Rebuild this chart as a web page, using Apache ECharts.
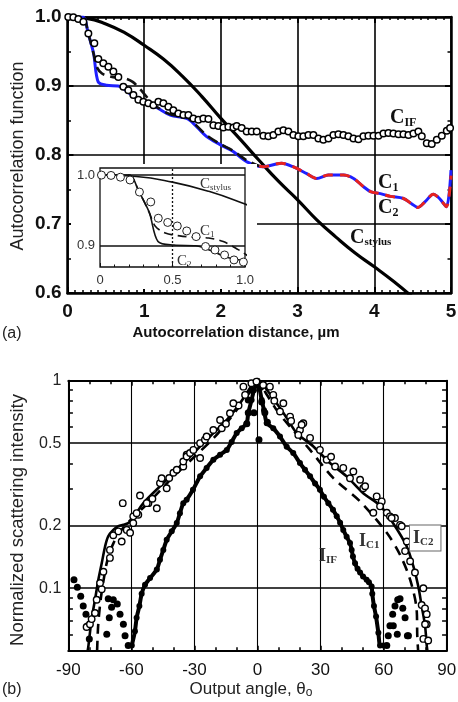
<!DOCTYPE html>
<html><head><meta charset="utf-8">
<script src="https://cdn.jsdelivr.net/npm/echarts@6/dist/echarts.min.js"></script>
<style>html,body{margin:0;padding:0;background:#fff}#c{width:458px;height:702px}</style>
</head><body><div id="c"></div><script>
// ---------- Panel (a) data ----------
const aXTicks = [0, 1, 2, 3, 4, 5];
const aYTicks = [0.6, 0.7, 0.8, 0.9, 1.0];
const cStylus = [[0,1.0],[0.25,0.998],[0.5,0.99],[0.75,0.977],[1.0,0.959],[1.25,0.939],[1.5,0.914],[1.75,0.885],[2.0,0.853],[2.25,0.823],[2.5,0.792],[2.75,0.762],[3.0,0.735],[3.25,0.706],[3.5,0.681],[3.75,0.658],[4.0,0.638],[4.25,0.617],[4.5,0.594]];
const c2 = [[0,1.0],[0.2,1.0],[0.27,0.976],[0.34,0.947],[0.40,0.906],[0.51,0.901],[0.66,0.900],[0.72,0.897],[0.86,0.885],[1.0,0.878],[1.16,0.869],[1.34,0.858],[1.55,0.853],[1.64,0.846],[1.81,0.827],[1.99,0.815],[2.16,0.805],[2.34,0.790],[2.55,0.783],[2.79,0.788],[2.94,0.783],[3.12,0.773],[3.25,0.766],[3.4,0.771],[3.6,0.771],[3.73,0.766],[3.86,0.754],[3.95,0.747],[4.08,0.744],[4.21,0.740],[4.38,0.737],[4.49,0.729],[4.57,0.724],[4.66,0.732],[4.77,0.743],[4.85,0.737],[4.94,0.725],[5.0,0.778]];
const c1Early = [[0,1.0],[0.2,1.0],[0.27,0.976],[0.34,0.947],[0.38,0.928],[0.45,0.918],[0.55,0.914],[0.65,0.912],[0.75,0.911],[0.85,0.906],[0.95,0.895],[1.05,0.882],[1.16,0.870],[1.34,0.859],[1.55,0.855],[1.64,0.847],[1.81,0.829],[1.99,0.816],[2.16,0.806],[2.34,0.792],[2.5,0.784]];
const c1Late = [[2.5,0.784],[2.55,0.783],[2.79,0.788],[2.94,0.783],[3.12,0.773],[3.25,0.766],[3.4,0.771],[3.6,0.771],[3.73,0.766],[3.86,0.754],[3.95,0.747],[4.08,0.744],[4.21,0.740],[4.38,0.737],[4.49,0.729],[4.57,0.724],[4.66,0.732],[4.77,0.743],[4.85,0.737],[4.94,0.725],[5.0,0.770]];
const cIF = [[0.01,1.0],[0.076,0.9995],[0.141,0.997],[0.207,0.993],[0.272,0.976],[0.35,0.962],[0.402,0.939],[0.467,0.933],[0.533,0.928],[0.598,0.921],[0.663,0.913],[0.728,0.899],[0.793,0.894],[0.859,0.887],[0.924,0.880],[0.989,0.877],[1.054,0.875],[1.12,0.872],[1.185,0.877],[1.25,0.875],[1.315,0.870],[1.38,0.865],[1.445,0.860],[1.511,0.858],[1.576,0.858],[1.641,0.853],[1.706,0.851],[1.771,0.853],[1.837,0.852],[1.902,0.843],[1.967,0.842],[2.032,0.840],[2.097,0.841],[2.163,0.840],[2.206,0.842],[2.271,0.839],[2.336,0.834],[2.402,0.834],[2.467,0.834],[2.554,0.828],[2.619,0.827],[2.684,0.829],[2.749,0.834],[2.815,0.836],[2.88,0.834],[2.945,0.829],[3.01,0.827],[3.075,0.827],[3.141,0.829],[3.206,0.829],[3.271,0.824],[3.336,0.822],[3.402,0.824],[3.467,0.829],[3.532,0.830],[3.597,0.829],[3.662,0.827],[3.728,0.824],[3.793,0.823],[3.858,0.827],[3.923,0.828],[3.989,0.828],[4.054,0.828],[4.119,0.831],[4.184,0.832],[4.249,0.831],[4.315,0.830],[4.38,0.830],[4.445,0.829],[4.51,0.831],[4.575,0.834],[4.619,0.827],[4.684,0.817],[4.749,0.816],[4.815,0.822],[4.88,0.828],[4.945,0.835],[4.988,0.839]];
const insetYLines = [1.0, 0.9];
const insetXMark = [0.5];

// ---------- Panel (b) data ----------
const bYGrid = [0.5, 0.2, 0.1];
const bYLabels = [1, 0.5, 0.2, 0.1];
const bYMinor = [0.06, 0.07, 0.08, 0.09, 0.3, 0.4, 0.6, 0.7, 0.8, 0.9];
const iIFArms = [[-59.8,0.053],[-58.3,0.062],[-57.5,0.072],[-56.2,0.082],[-55.1,0.094],[-53.5,0.104],[-51.1,0.112],[-47.9,0.123],[-46.4,0.137],[-44.8,0.153],[-43.2,0.171],[-40.8,0.188],[-38.4,0.206],[-36.9,0.230],[-35.3,0.257],[-33.7,0.267],[-30.7,0.298],[-27.3,0.346],[-24.2,0.380],[-21.0,0.416],[-17.8,0.440],[-14.6,0.464],[-12.3,0.507],[-9.9,0.559],[-7.5,0.590],[-5.1,0.624],[-4.4,0.697],[-2.8,0.808],[-1.7,0.90],[-0.4,0.97],[0,1.0],[2.0,0.808],[3.1,0.72],[4.4,0.624],[7.5,0.590],[10.7,0.538],[13.9,0.481],[17.0,0.448],[20.2,0.401],[22.6,0.372],[25.0,0.346],[27.4,0.320],[29.7,0.298],[31.6,0.276],[33.7,0.257],[35.9,0.239],[37.7,0.222],[39.3,0.207],[40.8,0.191],[42.4,0.177],[44.0,0.165],[44.8,0.153],[45.4,0.142],[46.4,0.132],[47.6,0.124],[48.8,0.119],[50.2,0.114],[51.9,0.110],[53.0,0.107],[54.3,0.102],[54.6,0.094],[55.4,0.082],[56.4,0.073],[57.5,0.061],[58.3,0.053],[59.9,0.053]];
const iIFDots = [[-87.3,0.110],[-85.7,0.101],[-84.1,0.0915],[-82.9,0.082],[-81.6,0.075],[-80.8,0.066],[-80.0,0.057],[-71.7,0.060],[-70.5,0.072],[-69.4,0.081],[-71.0,0.089],[-68.6,0.088],[-66.7,0.084],[-65.4,0.075],[-63.8,0.067],[-63.0,0.059],[-61.5,0.053],[-4.4,0.808],[-4.4,0.70],[-1.7,0.70],[3.5,0.70],[2.0,0.79],[-5.1,0.62],[4.7,0.63],[0.7,0.519],[-2.5,0.9],[1.5,0.93],[61.5,0.053],[62.2,0.059],[63.0,0.066],[64.3,0.075],[65.4,0.082],[66.7,0.088],[67.8,0.089],[69.1,0.080],[70.2,0.072],[71.3,0.059],[64.6,0.066],[66.5,0.060],[71.8,0.059]];
const iC2 = [[-80.8,0.05],[-80.5,0.052],[-78.9,0.071],[-77.3,0.088],[-75.7,0.110],[-74.1,0.132],[-72.5,0.159],[-71.0,0.178],[-68.6,0.191],[-66.2,0.199],[-63.8,0.202],[-61.5,0.206],[-59.1,0.218],[-54.3,0.257],[-44.8,0.321],[-36.9,0.386],[-28.9,0.464],[-21.0,0.559],[-14.6,0.647],[-8.3,0.779],[-2.0,0.972],[0,1.0],[2.0,0.972],[9.1,0.779],[14.0,0.66],[18.7,0.559],[26.6,0.482],[34.5,0.401],[42.4,0.346],[50.3,0.287],[58.3,0.250],[64.6,0.205],[71.0,0.159],[74.1,0.128],[76.5,0.102],[78.1,0.082],[79.7,0.066],[80.5,0.053],[80.8,0.05]];
const iC1 = [[-76.3,0.05],[-75.8,0.066],[-74.8,0.085],[-73.5,0.105],[-71.5,0.135],[-68.5,0.165],[-64,0.195],[-58,0.225],[-50,0.27],[-40,0.345],[-30,0.43],[-20,0.54],[-10,0.72],[-4,0.87],[0,1.0],[4,0.87],[10,0.70],[15.5,0.60],[25.0,0.464],[36.1,0.339],[48.8,0.262],[61.5,0.185],[67.8,0.145],[72.6,0.110],[75.7,0.079],[76.0,0.059],[76.4,0.05]];
const iMeas = [[-81.3,0.065],[-79.7,0.067],[-78.9,0.071],[-77.3,0.076],[-76.5,0.088],[-74.1,0.099],[-74.9,0.106],[-73.3,0.12],[-70.2,0.14],[-70.2,0.153],[-68.6,0.18],[-66.2,0.188],[-64.6,0.168],[-62.2,0.191],[-60.6,0.185],[-59.1,0.206],[-56.7,0.226],[-59.1,0.222],[-47.9,0.243],[-51.9,0.257],[-64.1,0.257],[-55.9,0.28],[-52.7,0.257],[-57.5,0.23],[-50,0.27],[-46.4,0.321],[-43.2,0.303],[-45.6,0.339],[-42,0.34],[-40,0.36],[-38.4,0.372],[-35.3,0.386],[-33.7,0.44],[-35.3,0.408],[-33.7,0.431],[-32.1,0.448],[-30.5,0.464],[-27.3,0.424],[-27.3,0.5],[-25,0.52],[-24.2,0.538],[-21,0.579],[-17,0.59],[-15,0.62],[-17.8,0.647],[-13.1,0.697],[-9,0.76],[-11.5,0.779],[-5.9,0.854],[-6.7,0.936],[-2.9,0.972],[-0.5,0.99],[2.7,0.953],[5.9,0.936],[7.5,0.854],[8,0.8],[12.3,0.779],[10.7,0.71],[15.5,0.671],[16,0.64],[21.8,0.624],[20.2,0.579],[21.0,0.613],[19.4,0.548],[25,0.53],[29.7,0.464],[32.9,0.416],[35,0.43],[36.9,0.386],[40.8,0.38],[45.6,0.365],[44.0,0.339],[48.8,0.333],[50.3,0.303],[51.2,0.31],[56.7,0.277],[59.1,0.262],[58.3,0.248],[55.1,0.231],[61.5,0.231],[63.0,0.222],[65.4,0.218],[63.8,0.218],[67.8,0.202],[68.6,0.199],[71.0,0.168],[70.2,0.151],[72.6,0.135],[74.9,0.119],[78.9,0.1],[78.1,0.083],[79.7,0.08],[80.5,0.075],[80.5,0.067],[79.7,0.067],[78.9,0.057],[81.2,0.056]];

// ---------- styles ----------
const SANS = "'Liberation Sans', Arial, Helvetica, sans-serif";
const SERIF = "'Liberation Serif', 'Times New Roman', serif";
const BLK = '#000';

const chart = echarts.init(document.getElementById('c'), null, {renderer: 'canvas', width: 458, height: 702});

function frameAxis(extra) {
  return Object.assign({
    type: 'value',
    axisLine: {show: true, onZero: false, lineStyle: {color: BLK, width: 2.5}},
    axisTick: {show: true, inside: true, length: 6, lineStyle: {color: BLK, width: 2}},
    minorTick: {show: true, length: 3, lineStyle: {color: BLK, width: 1.5}},
    splitLine: {show: false},
    axisLabel: {show: false}
  }, extra);
}

const subText = (main, sub) => `{m|${main}}{s|${sub}}`;
function richLabel(x, y, main, sub, mainFont, subFont, color, drop, extraStyle) {
  return {
    type: 'text', x: x, y: y, z: 30,
    style: Object.assign({
      text: subText(main, sub),
      verticalAlign: 'middle', align: 'left', fill: color,
      rich: {
        m: {font: mainFont, fill: color},
        s: {font: subFont, fill: color, padding: [drop, 0, 0, 0]}
      }
    }, extraStyle || {})
  };
}

const option = {
  animation: false,
  backgroundColor: '#fff',
  grid: [
    {left: 67.5, top: 17, width: 383.5, height: 276, outerBoundsMode: 'none', containLabel: false},
    {left: 100, top: 168, width: 145, height: 99, show: true, z: 10, borderColor: '#111', borderWidth: 1.3, backgroundColor: 'rgba(0,0,0,0)', outerBoundsMode: 'none', containLabel: false},
    {left: 68.3, top: 380.7, width: 378.4, height: 270, outerBoundsMode: 'none', containLabel: false}
  ],
  xAxis: [
    frameAxis({gridIndex: 0, position: 'bottom', min: aXTicks[0], max: aXTicks[aXTicks.length - 1], interval: 1,
      minorTick: {show: true, splitNumber: 10, length: 3, lineStyle: {color: BLK, width: 1.5}},
      splitLine: {show: true, lineStyle: {color: BLK, width: 1.6}},
      axisLabel: {show: true, margin: 9, color: '#111', fontFamily: SANS, fontWeight: 'bold', fontSize: 19}}),
    frameAxis({gridIndex: 0, position: 'top', min: aXTicks[0], max: aXTicks[aXTicks.length - 1], interval: 1,
      minorTick: {show: true, splitNumber: 10, length: 3, lineStyle: {color: BLK, width: 1.5}}}),
    {gridIndex: 1, type: 'value', min: 0, max: 1, interval: 0.5, z: 10,
      axisLine: {show: false}, splitLine: {show: false},
      axisTick: {show: true, inside: true, length: 4, lineStyle: {color: '#111', width: 1}},
      minorTick: {show: true, splitNumber: 5, length: 2.5, lineStyle: {color: '#111', width: 1}},
      axisLabel: {show: true, margin: 7, color: '#333', fontFamily: SANS, fontSize: 13,
        formatter: v => (v === 0 ? '0' : v.toFixed(1))}},
    frameAxis({gridIndex: 2, position: 'bottom', min: -90, max: 90, interval: 30,
      axisLine: {show: true, onZero: false, lineStyle: {color: BLK, width: 2}},
      axisTick: {show: true, inside: true, length: 5, lineStyle: {color: BLK, width: 1.5}},
      minorTick: {show: true, splitNumber: 3, length: 3.5, lineStyle: {color: BLK, width: 1.5}},
      splitLine: {show: true, lineStyle: {color: BLK, width: 1.1}},
      axisLabel: {show: true, margin: 11, color: '#111', fontFamily: SANS, fontSize: 17}}),
    frameAxis({gridIndex: 2, position: 'top', min: -90, max: 90, interval: 30,
      axisLine: {show: true, onZero: false, lineStyle: {color: BLK, width: 2}},
      axisTick: {show: true, inside: true, length: 5, lineStyle: {color: BLK, width: 1.5}},
      minorTick: {show: true, splitNumber: 3, length: 3.5, lineStyle: {color: BLK, width: 1.5}}})
  ],
  yAxis: [
    frameAxis({gridIndex: 0, position: 'left', min: aYTicks[0], max: aYTicks[aYTicks.length - 1], interval: 0.1,
      minorTick: {show: true, splitNumber: 2, length: 3.5, lineStyle: {color: BLK, width: 1.5}},
      splitLine: {show: true, lineStyle: {color: BLK, width: 1.6}},
      axisLabel: {show: true, margin: 6, color: '#111', fontFamily: SANS, fontWeight: 'bold', fontSize: 19,
        formatter: v => v.toFixed(1)}}),
    frameAxis({gridIndex: 0, position: 'right', min: aYTicks[0], max: aYTicks[aYTicks.length - 1], interval: 0.1,
      minorTick: {show: true, splitNumber: 2, length: 3.5, lineStyle: {color: BLK, width: 1.5}}}),
    {gridIndex: 1, type: 'value', min: 0.87, max: 1.01, z: 10,
      axisLine: {show: false}, axisTick: {show: false}, splitLine: {show: false}, axisLabel: {show: false}},
    {gridIndex: 2, type: 'log', logBase: 10, min: 0.05, max: 1, position: 'left',
      axisLine: {show: true, onZero: false, lineStyle: {color: BLK, width: 2}},
      axisTick: {show: false}, minorTick: {show: false}, splitLine: {show: false}, axisLabel: {show: false}},
    {gridIndex: 2, type: 'log', logBase: 10, min: 0.05, max: 1, position: 'right',
      axisLine: {show: true, onZero: false, lineStyle: {color: BLK, width: 2}},
      axisTick: {show: false}, minorTick: {show: false}, splitLine: {show: false}, axisLabel: {show: false}}
  ],
  series: [
    // ----- panel (a) main -----
    {name: 'C_stylus', type: 'line', xAxisIndex: 0, yAxisIndex: 0, data: cStylus, smooth: true, showSymbol: false,
      lineStyle: {color: BLK, width: 3.2}, z: 3},
    {name: 'C_2', type: 'line', xAxisIndex: 0, yAxisIndex: 0, data: c2, smooth: 0.3, showSymbol: false,
      lineStyle: {color: '#1f1fff', width: 3}, z: 3},
    {name: 'C_1', type: 'line', xAxisIndex: 0, yAxisIndex: 0, data: c1Early, smooth: 0.3, showSymbol: false,
      lineStyle: {color: '#111', width: 2.6, type: [11, 6]}, z: 4},
    {name: 'C_1 (tail)', type: 'line', xAxisIndex: 0, yAxisIndex: 0, data: c1Late, smooth: 0.3, showSymbol: false,
      lineStyle: {color: '#e8231d', width: 3, type: [10, 7]}, z: 4},
    {name: 'C_IF', type: 'scatter', xAxisIndex: 0, yAxisIndex: 0, data: cIF, symbol: 'circle', symbolSize: 6.5,
      itemStyle: {color: '#fff', borderColor: BLK, borderWidth: 1.5, opacity: 1}, z: 5},
    // ----- panel (a) inset -----
    {name: 'inset C_stylus', type: 'line', xAxisIndex: 2, yAxisIndex: 2, data: cStylus, smooth: true, showSymbol: false,
      lineStyle: {color: '#111', width: 1.6}, z: 11,
      markLine: {silent: true, symbol: 'none', z: 11,
        data: insetYLines.map(v => ({yAxis: v, lineStyle: {color: '#111', width: 1.5, type: 'solid'},
            label: {show: true, position: 'start', distance: 5, formatter: v.toFixed(1), color: '#333', fontFamily: SANS, fontSize: 13}}))
          .concat(insetXMark.map(v => ({xAxis: v, lineStyle: {color: '#111', width: 1.3, type: [2, 2]}, label: {show: false}})))}},
    {name: 'inset C_2', type: 'line', xAxisIndex: 2, yAxisIndex: 2, data: c2, smooth: 0.3, showSymbol: false,
      lineStyle: {color: '#111', width: 1.6}, z: 11},
    {name: 'inset C_1', type: 'line', xAxisIndex: 2, yAxisIndex: 2, data: c1Early, smooth: 0.3, showSymbol: false,
      lineStyle: {color: '#111', width: 1.6, type: [9, 5]}, z: 11},
    {name: 'inset C_IF', type: 'scatter', xAxisIndex: 2, yAxisIndex: 2, data: cIF, symbol: 'circle', symbolSize: 8,
      itemStyle: {color: '#fff', borderColor: '#222', borderWidth: 1, opacity: 1}, z: 12},
    // ----- panel (b) -----
    {name: 'I_C2', type: 'line', xAxisIndex: 3, yAxisIndex: 3, data: iC2, smooth: 0.3, showSymbol: false,
      lineStyle: {color: BLK, width: 2.6}, z: 3,
      markLine: {silent: true, symbol: 'none', z: 2,
        data: bYLabels.map(v => ({yAxis: v,
            lineStyle: {color: BLK, width: bYGrid.indexOf(v) >= 0 ? 1.6 : 2, type: 'solid'},
            label: {show: true, position: 'start', distance: 7, formatter: String(v), color: '#222', fontFamily: SANS, fontSize: 16}}))
          .concat(bYMinor.map(v => [{coord: [-90, v]}, {coord: [-87.8, v]}]))
          .concat(bYMinor.map(v => [{coord: [90, v]}, {coord: [87.8, v]}])),
        lineStyle: {color: BLK, width: 1.5, type: 'solid'}, label: {show: false}}},
    {name: 'I_C1', type: 'line', xAxisIndex: 3, yAxisIndex: 3, data: iC1, smooth: 0.3, showSymbol: false,
      lineStyle: {color: BLK, width: 2.6, type: [10, 7]}, z: 3},
    {name: 'I_IF', type: 'line', xAxisIndex: 3, yAxisIndex: 3, data: iIFArms, smooth: 0.2, showSymbol: true,
      symbol: 'circle', symbolSize: 6, itemStyle: {color: BLK, opacity: 1}, lineStyle: {color: BLK, width: 4}, z: 4},
    {name: 'I_IF dots', type: 'scatter', xAxisIndex: 3, yAxisIndex: 3, data: iIFDots, symbol: 'circle', symbolSize: 7,
      itemStyle: {color: BLK, opacity: 1}, z: 4},
    {name: 'measured', type: 'scatter', xAxisIndex: 3, yAxisIndex: 3, data: iMeas, symbol: 'circle', symbolSize: 6.5,
      itemStyle: {color: '#fff', borderColor: BLK, borderWidth: 1.4, opacity: 1}, z: 5}
  ],
  graphic: [
    // white backdrop of the inset
    {type: 'rect', z: 6, silent: true, shape: {x: 71, y: 164, width: 186, height: 125}, style: {fill: '#fff'}},
    // axis titles and panel tags
    {type: 'text', x: 18, y: 156, rotation: Math.PI / 2, z: 30,
      style: {text: 'Autocorrelation function', align: 'center', verticalAlign: 'middle', fill: '#222', font: `18px ${SANS}`}},
    {type: 'text', x: 236, y: 333, z: 30,
      style: {text: 'Autocorrelation distance, \u00b5m', align: 'center', verticalAlign: 'middle', fill: '#111', font: `bold 15px ${SANS}`}},
    {type: 'text', x: 2, y: 334, z: 30,
      style: {text: '(a)', align: 'left', verticalAlign: 'middle', fill: '#222', font: `16px ${SANS}`}},
    {type: 'text', x: 18, y: 520, rotation: Math.PI / 2, z: 30,
      style: {text: 'Normalized scattering intensity', align: 'center', verticalAlign: 'middle', fill: '#222', font: `18.5px ${SANS}`}},
    {type: 'text', x: 251, y: 689, z: 30,
      style: {text: '{m|Output angle, \u03b8}{s|o}', align: 'center', verticalAlign: 'middle', fill: '#222',
        rich: {m: {font: `17px ${SANS}`, fill: '#222'}, s: {font: `12px ${SANS}`, fill: '#222', padding: [8, 0, 0, 0]}}}},
    {type: 'text', x: 2, y: 690, z: 30,
      style: {text: '(b)', align: 'left', verticalAlign: 'middle', fill: '#222', font: `16px ${SANS}`}},
    // main curve labels (a)
    richLabel(390, 118, 'C', 'IF', `bold 20px ${SERIF}`, `bold 12px ${SERIF}`, '#111', 9),
    richLabel(378, 183, 'C', '1', `bold 20px ${SERIF}`, `bold 12px ${SERIF}`, '#111', 9),
    richLabel(378, 208, 'C', '2', `bold 20px ${SERIF}`, `bold 12px ${SERIF}`, '#111', 9),
    richLabel(350, 238, 'C', 'stylus', `bold 20px ${SERIF}`, `bold 11px ${SERIF}`, '#111', 9),
    // inset labels
    richLabel(200, 184, 'C', 'stylus', `15px ${SERIF}`, `9px ${SERIF}`, '#333', 7),
    richLabel(200, 231, 'C', '1', `15px ${SERIF}`, `9px ${SERIF}`, '#333', 7),
    richLabel(177, 261, 'C', '2', `15px ${SERIF}`, `9px ${SERIF}`, '#333', 7),
    // panel (b) labels
    richLabel(319, 556, 'I', 'IF', `bold 18px ${SERIF}`, `bold 11px ${SERIF}`, '#333', 8),
    richLabel(359, 541, 'I', 'C1', `bold 18px ${SERIF}`, `bold 11px ${SERIF}`, '#333', 8),
    richLabel(410, 538, 'I', 'C2', `bold 18px ${SERIF}`, `bold 11px ${SERIF}`, '#333', 8,
      {backgroundColor: '#fff', borderColor: '#666', borderWidth: 1, padding: [3, 7, 3, 3]})
  ]
};
chart.setOption(option);
</script></body></html>
